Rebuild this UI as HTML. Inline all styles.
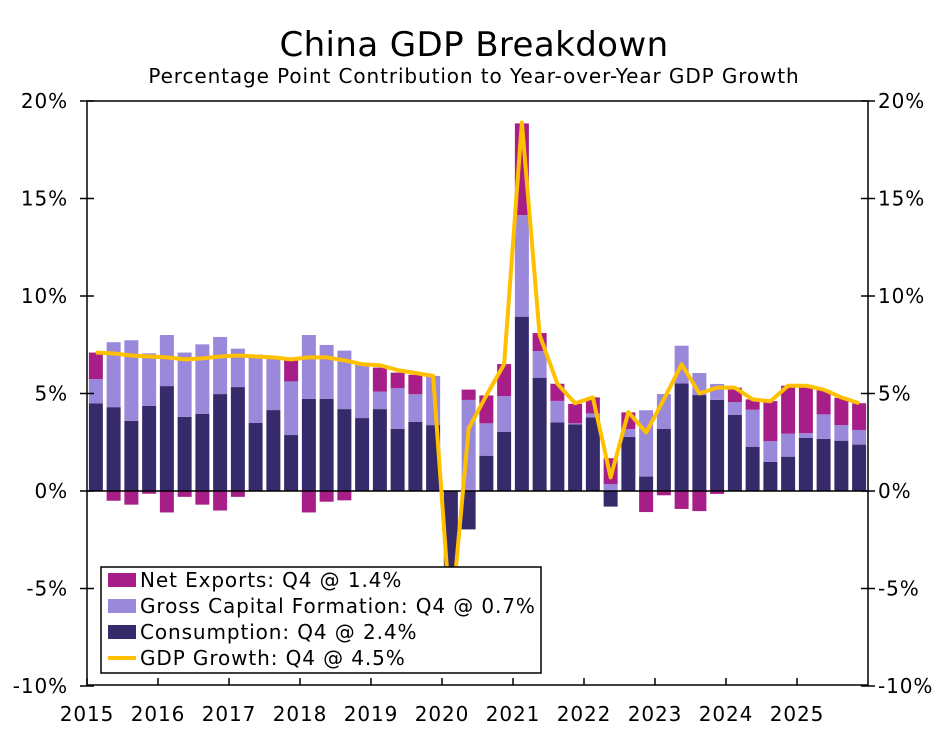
<!DOCTYPE html>
<html><head><meta charset="utf-8"><style>
body{margin:0;background:#fff;}
svg text{font-family:"DejaVu Sans","Liberation Sans",sans-serif;fill:#000;letter-spacing:0.9px;}
svg text.title{letter-spacing:0.4px;}
</style></head><body>
<svg id="chart" width="948" height="727" viewBox="0 0 948 727" xmlns="http://www.w3.org/2000/svg">
<text class="title" x="474" y="56" text-anchor="middle" font-size="34">China GDP Breakdown</text>
<text x="474" y="83" text-anchor="middle" font-size="20">Percentage Point Contribution to Year-over-Year GDP Growth</text>
<g id="bars"></g>
<g id="axes"></g>
<g id="line"></g>
<g id="legend"></g>
</svg>
<script>
const years = ["2015","2016","2017","2018","2019","2020","2021","2022","2023","2024","2025"];
const yTicks = [-10,-5,0,5,10,15,20];
const consumption = [4.5,4.3,3.6,4.36,5.38,3.8,3.95,4.97,5.33,3.5,4.15,2.87,4.72,4.72,4.2,3.74,4.2,3.18,3.54,3.38,-4.4,-1.97,1.81,3.04,8.94,5.81,3.52,3.42,3.78,-0.8,2.78,0.74,3.18,5.52,4.92,4.67,3.91,2.27,1.49,1.76,2.73,2.67,2.58,2.38];
const capital = [1.24,3.33,4.13,2.7,2.62,3.3,3.57,2.93,1.97,3.5,2.75,2.75,3.28,2.77,3.0,2.72,0.9,2.09,1.42,2.52,-1.5,4.67,1.66,1.83,5.21,1.37,1.1,0.05,0.2,0.36,0.4,3.4,1.79,1.93,1.13,0.82,0.65,1.9,1.07,1.18,0.24,1.26,0.8,0.75];
const netExports = [1.36,-0.5,-0.7,-0.14,-1.1,-0.3,-0.7,-1.0,-0.3,0.0,0.0,1.13,-1.1,-0.55,-0.48,0.1,1.23,0.8,1.0,0.0,-0.9,0.53,1.43,1.64,4.7,0.92,0.88,1.0,0.82,1.32,0.85,-1.08,-0.22,-0.92,-1.03,-0.15,0.74,0.53,2.05,2.46,2.43,1.25,1.4,1.37];
const gdp = [7.1,7.05,6.95,6.9,6.85,6.75,6.8,6.9,6.95,6.9,6.85,6.75,6.85,6.85,6.7,6.5,6.45,6.2,6.05,5.9,-6.8,3.2,4.9,6.5,18.9,8.0,5.5,4.5,4.8,0.7,4.05,3.0,4.7,6.5,5.0,5.3,5.3,4.7,4.6,5.4,5.4,5.2,4.8,4.5];
const C={nx:"#a81e88",gcf:"#9a88da",cons:"#372a6a",line:"#ffc000"};
const X0=87,X1=868,Y0=101,Y1=685,N=gdp.length;
const slot=(X1-X0)/N;
function xc(i){return X0+(i+0.5)*slot;}
function y(v){return 491-(v)*(491-Y0)/20;}
const ns="http://www.w3.org/2000/svg";
function mk(tag,attrs,parent){const e=document.createElementNS(ns,tag);for(const k in attrs)e.setAttribute(k,attrs[k]);parent.appendChild(e);return e;}
const bars=document.getElementById('bars');
const bw=14;
for(let i=0;i<N;i++){
  let pos=0,neg=0;
  [[consumption[i],C.cons,'consumption-bar'],[capital[i],C.gcf,'capital-formation-bar'],[netExports[i],C.nx,'net-exports-bar']].forEach(([v,col,name])=>{
    let a,b;
    if(v>=0){a=pos;b=pos+v;pos=b;}else{a=neg;b=neg+v;neg=b;}
    const top=Math.min(y(a),y(b)),h=Math.abs(y(a)-y(b));
    const r=mk('rect',{x:xc(i)-bw/2,y:top,width:bw,height:h,fill:col},bars);
    
    
  });
}
const ax=document.getElementById('axes');
const frame=mk('rect',{x:X0,y:Y0,width:X1-X0,height:Y1-Y0,fill:'none',stroke:'#000','stroke-width':1.5},ax);


const zl=mk('line',{x1:X0,x2:X1,y1:y(0),y2:y(0),stroke:'#000','stroke-width':1.5},ax);


yTicks.forEach(t=>{
  const yy=y(t);
  mk('line',{x1:X0-7,x2:X0+7,y1:yy,y2:yy,stroke:'#000','stroke-width':1.5},ax);
  mk('line',{x1:X1-7,x2:X1+7,y1:yy,y2:yy,stroke:'#000','stroke-width':1.5},ax);
  const l=mk('text',{x:68,y:yy+7,'text-anchor':'end','font-size':20},ax);l.textContent=t+'%';
  
  
  const r=mk('text',{x:878,y:yy+7,'text-anchor':'start','font-size':20},ax);r.textContent=t+'%';
  
  
});
years.forEach((yr,k)=>{
  const xx=X0+k*4*slot;
  mk('line',{x1:xx,x2:xx,y1:Y1,y2:Y1-7,stroke:'#000','stroke-width':1.5},ax);
  const t=mk('text',{x:xx,y:721,'text-anchor':'middle','font-size':20},ax);t.textContent=yr;
  
  
});
const lg=document.getElementById('line');
const pl=mk('polyline',{points:gdp.map((v,i)=>xc(i)+','+y(v)).join(' '),fill:'none',stroke:C.line,'stroke-width':4,'stroke-linejoin':'round'},lg);


const leg=document.getElementById('legend');
mk('rect',{x:101,y:567,width:440,height:106,fill:'#fff',stroke:'#000','stroke-width':1.5},leg);
const items=[["Net Exports: Q4 @ 1.4%",C.nx,'rect'],["Gross Capital Formation: Q4 @ 0.7%",C.gcf,'rect'],["Consumption: Q4 @ 2.4%",C.cons,'rect'],["GDP Growth: Q4 @ 4.5%",C.line,'line']];
items.forEach((it,k)=>{
  const cy=580+k*26;
  if(it[2]==='rect')mk('rect',{x:108,y:cy-7,width:28,height:14,fill:it[1]},leg);
  else mk('line',{x1:108,x2:136,y1:cy,y2:cy,stroke:it[1],'stroke-width':4},leg);
  const t=mk('text',{x:140,y:cy+7,'font-size':20},leg);t.textContent=it[0];
  
  
});
</script>
</body></html>
